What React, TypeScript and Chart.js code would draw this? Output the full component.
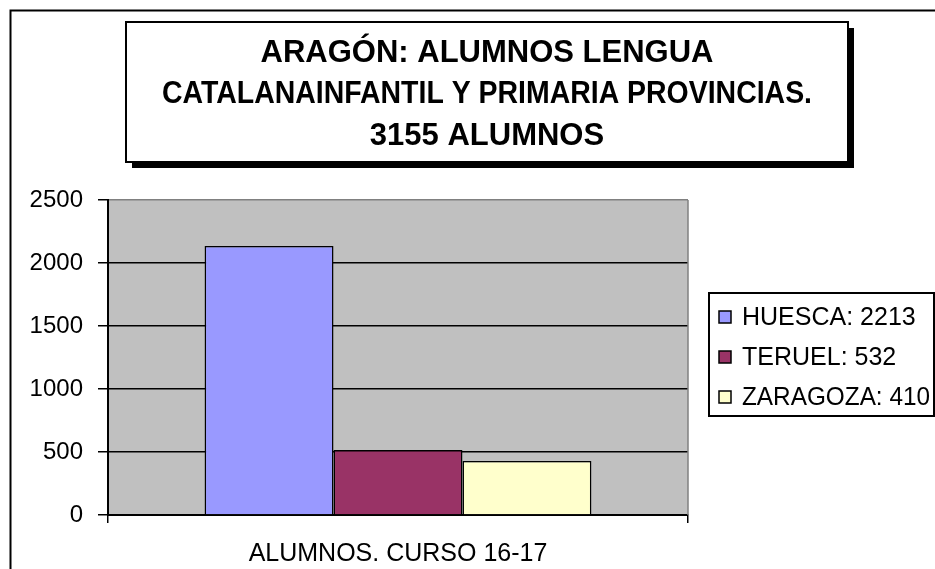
import React, { useEffect, useRef } from "react";
import { Chart, registerables } from "chart.js";

Chart.register(...registerables);

const titleLines = [
  "ARAGÓN: ALUMNOS LENGUA",
  "CATALANAINFANTIL Y PRIMARIA PROVINCIAS.",
  "3155 ALUMNOS",
];
const categories = ["ALUMNOS. CURSO 16-17"];
const provinces = ["HUESCA", "TERUEL", "ZARAGOZA"];
const legendLabels = ["HUESCA: 2213", "TERUEL: 532", "ZARAGOZA: 410"];
const values = [2135, 516, 428];
const colors = ["#9999FF", "#993366", "#FFFFCC"];
const yTicks = [0, 500, 1000, 1500, 2000, 2500];

const FONT = "'Liberation Sans', Arial, sans-serif";

const decor = {
  id: "decor",
  beforeDraw(chart: any) {
    const { ctx, chartArea: a, width, height } = chart;
    ctx.save();
    ctx.fillStyle = "#FFFFFF";
    ctx.fillRect(0, 0, width, height);
    ctx.fillStyle = "#C0C0C0";
    ctx.fillRect(a.left, a.top, a.right - a.left, a.bottom - a.top);
    ctx.restore();
  },
  afterDraw(chart: any) {
    const { ctx, chartArea: a } = chart;
    ctx.save();
    // plot right border
    ctx.strokeStyle = "#808080";
    ctx.lineWidth = 1.5;
    ctx.beginPath();
    ctx.moveTo(a.right, a.top);
    ctx.lineTo(a.right, a.bottom);
    ctx.stroke();

    // outer frame
    ctx.strokeStyle = "#000";
    ctx.lineWidth = 2;
    ctx.strokeRect(10.5, 10.5, 1000, 1000);

    // title box with shadow
    const bx = 126, by = 22, bw = 722, bh = 140;
    ctx.fillStyle = "#000";
    ctx.fillRect(bx + 6, by + 6, bw, bh);
    ctx.fillStyle = "#FFF";
    ctx.fillRect(bx, by, bw, bh);
    ctx.strokeStyle = "#000";
    ctx.lineWidth = 2;
    ctx.strokeRect(bx, by, bw, bh);
    ctx.fillStyle = "#000";
    ctx.font = `bold 31px ${FONT}`;
    ctx.textAlign = "center";
    ctx.textBaseline = "alphabetic";
    const baselines = [62, 103, 145];
    titleLines.forEach((t, i) => ctx.fillText(t, bx + bw / 2, baselines[i], 650));

    // legend
    const lx = 709, ly = 293, lw = 225, lh = 123;
    ctx.fillStyle = "#FFF";
    ctx.fillRect(lx, ly, lw, lh);
    ctx.strokeStyle = "#000";
    ctx.lineWidth = 2;
    ctx.strokeRect(lx, ly, lw, lh);
    const rows = [317, 357, 397];
    ctx.font = `25px ${FONT}`;
    ctx.textAlign = "left";
    ctx.textBaseline = "middle";
    legendLabels.forEach((t, i) => {
      ctx.fillStyle = colors[i];
      ctx.fillRect(719, rows[i] - 6, 12, 12);
      ctx.strokeStyle = "#000";
      ctx.lineWidth = 1.5;
      ctx.strokeRect(719, rows[i] - 6, 12, 12);
      ctx.fillStyle = "#000";
      ctx.fillText(t, 742, rows[i] + 1, 188);
    });
    ctx.restore();
  },
};

export default function App() {
  const ref = useRef<HTMLCanvasElement>(null);
  useEffect(() => {
    document.body.style.margin = "0";
    const chart = new Chart(ref.current as HTMLCanvasElement, {
      type: "bar",
      data: {
        labels: categories,
        datasets: provinces.map((p, i) => ({
          label: p,
          data: [values[i]],
          backgroundColor: colors[i],
          borderColor: "#000",
          borderWidth: 1.5,
          categoryPercentage: 0.667,
          barPercentage: 1,
        })),
      },
      options: {
        responsive: false,
        animation: false,
        events: [],
        layout: { padding: { top: 200, right: 247, bottom: 0, left: 0 } },
        plugins: {
          legend: { display: false },
          title: { display: false },
          tooltip: { enabled: false },
        },
        scales: {
          x: {
            offset: true,
            grid: {
              offset: true,
              drawOnChartArea: false,
              drawTicks: true,
              tickLength: 8,
              color: "#000",
              lineWidth: 1.5,
            },
            border: { color: "#000", width: 2 },
            ticks: { color: "#000", font: { family: FONT, size: 25 }, padding: 16 },
            afterFit: (s: any) => {
              s.height = 54;
            },
          },
          y: {
            min: 0,
            max: 2500,
            afterBuildTicks: (s: any) => {
              s.ticks = yTicks.map((v) => ({ value: v }));
            },
            grid: {
              color: (c: any) => (c.tick && c.tick.value === 2500 ? "#808080" : "#000"),
              lineWidth: 1.5,
              tickLength: 10,
              tickColor: "#000",
            },
            border: { color: "#000", width: 2 },
            ticks: {
              color: "#000",
              font: { family: FONT, size: 24 },
              padding: 15,
              callback: (v: any) => String(v),
            },
            afterFit: (s: any) => {
              s.width = 108;
            },
          },
        },
      },
      plugins: [decor],
    });
    return () => chart.destroy();
  }, []);
  return (
    <div style={{ position: "absolute", left: 0, top: 0, width: 935, height: 569 }}>
      <canvas ref={ref} width={935} height={569} />
    </div>
  );
}
